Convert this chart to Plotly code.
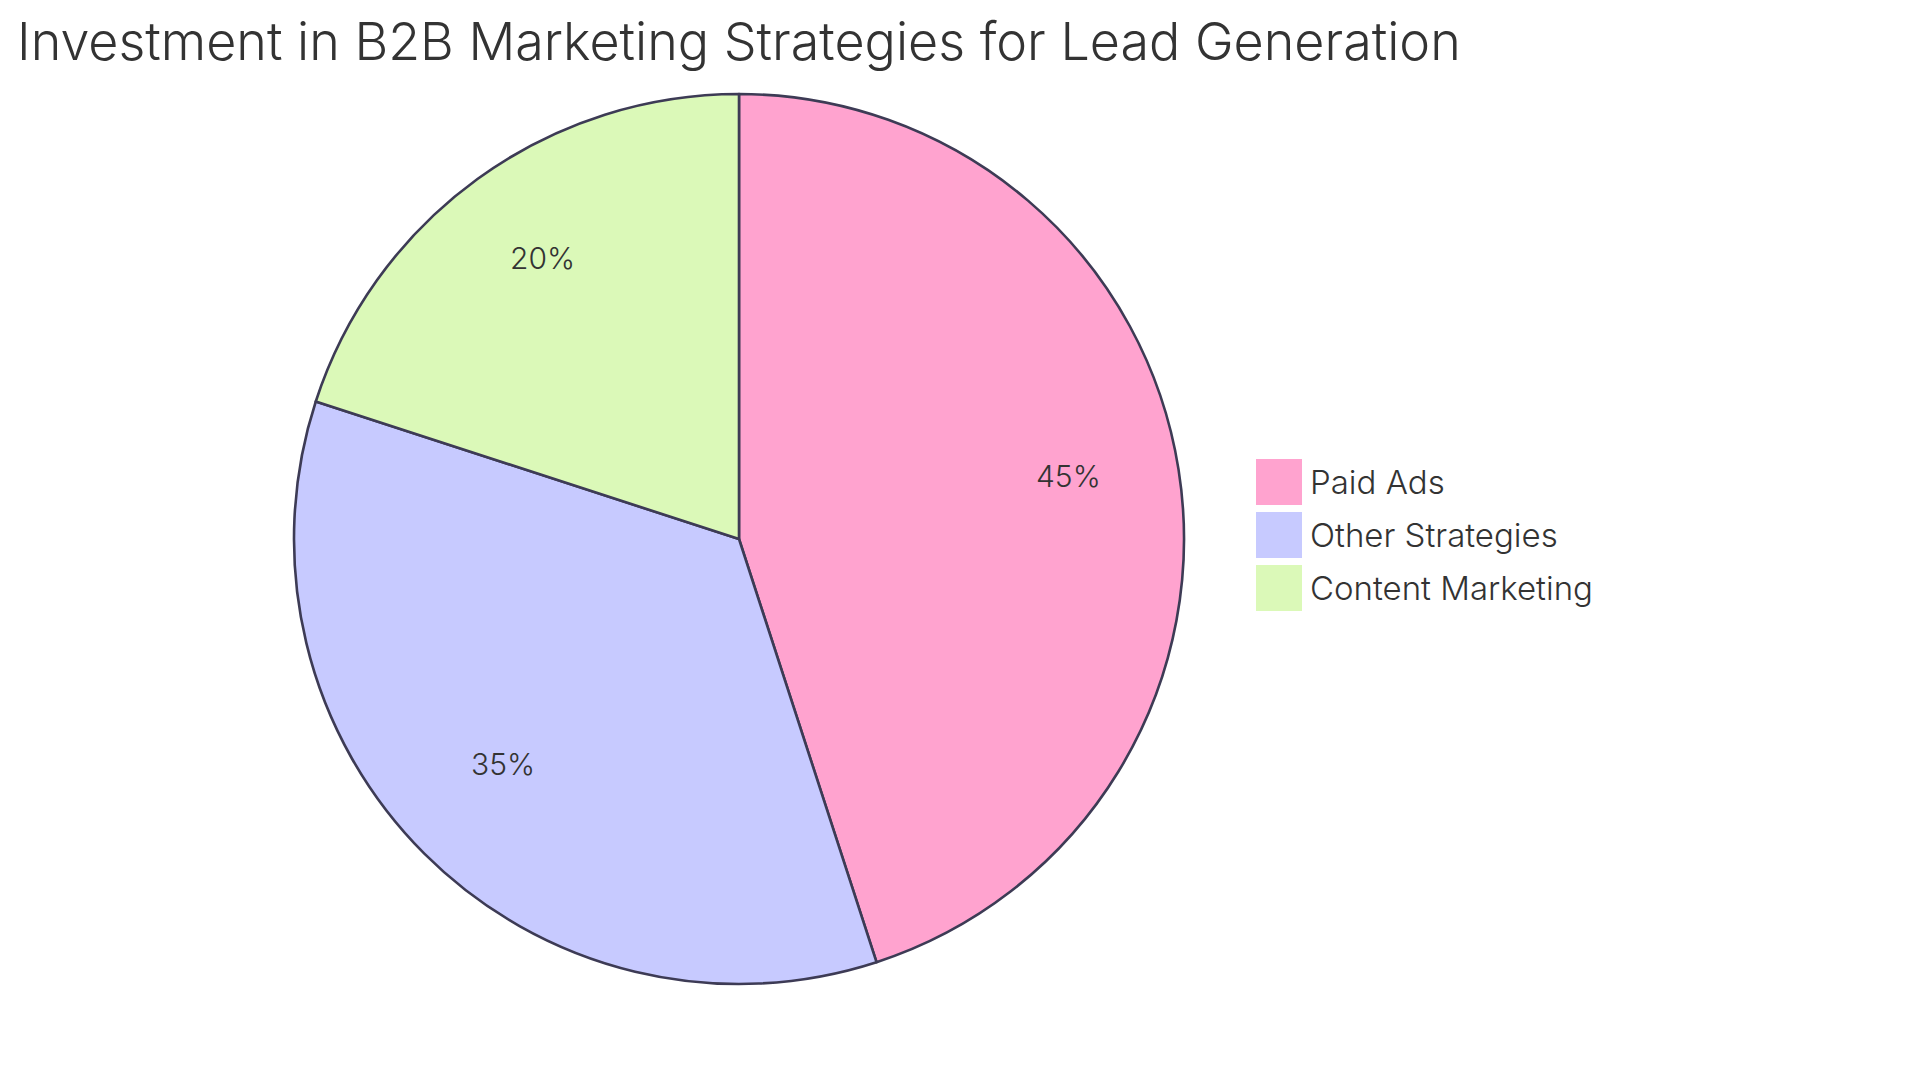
import math
import plotly.graph_objects as go

categories = ["Paid Ads", "Other Strategies", "Content Marketing"]
values = [45, 35, 20]
colors = ["#FFA3CF", "#C7CAFF", "#DBF9B8"]
title_text = "Investment in B2B Marketing Strategies for Lead Generation"

W, H = 1920, 1083
FONT = "Inter, Roboto, sans-serif"
TEXT_COLOR = "#333333"
LINE_COLOR = "#3D3B55"

# pie geometry (pixels)
CX, CY, R = 731, 531, 445
LABEL_R = 0.75

fig = go.Figure()
fig.add_trace(go.Pie(
    labels=categories,
    values=values,
    sort=False,
    direction="clockwise",
    rotation=0,
    marker=dict(colors=colors, line=dict(color=LINE_COLOR, width=2.6)),
    textinfo="none",
    domain=dict(x=[(CX - R) / W, (CX + R) / W], y=[1 - (CY + R) / H, 1 - (CY - R) / H]),
    showlegend=False,
    hoverinfo="label+percent",
))

# percentage labels at 0.75 of the radius, at each slice's mid-angle
total = sum(values)
cum = 0
for v in values:
    mid = (cum + v / 2) / total * 2 * math.pi
    cum += v
    px = CX + LABEL_R * R * math.sin(mid)
    py = CY - LABEL_R * R * math.cos(mid) - 11
    fig.add_annotation(xref="paper", yref="paper", x=px / W, y=1 - py / H,
                       xanchor="center", yanchor="middle", showarrow=False,
                       text=f"{round(v / total * 100)}%",
                       font=dict(family=FONT, size=30, color=TEXT_COLOR, weight=300))

# custom legend built from the category / colour arrays
box = 46
step = 53
y0 = 474
for i, (cat, col) in enumerate(zip(categories, colors)):
    cy = y0 + i * step
    fig.add_shape(type="rect", xref="paper", yref="paper",
                  x0=1248 / W, x1=(1248 + box) / W,
                  y0=1 - (cy + box / 2) / H, y1=1 - (cy - box / 2) / H,
                  fillcolor=col, line=dict(width=0))
    fig.add_annotation(xref="paper", yref="paper", x=1300 / W, y=1 - cy / H,
                       xanchor="left", yanchor="middle", text=cat, showarrow=False,
                       font=dict(family=FONT, size=33, color=TEXT_COLOR, weight=300))

fig.update_layout(
    width=W, height=H,
    margin=dict(l=0, r=0, t=0, b=0),
    paper_bgcolor="white",
    plot_bgcolor="white",
    title=dict(text=title_text, x=9 / W, xanchor="left", xref="paper",
               y=1 - 33.5 / H, yanchor="middle", yref="container",
               font=dict(family=FONT, size=52, color=TEXT_COLOR, weight=300)),
)

fig.write_html("out.html")
